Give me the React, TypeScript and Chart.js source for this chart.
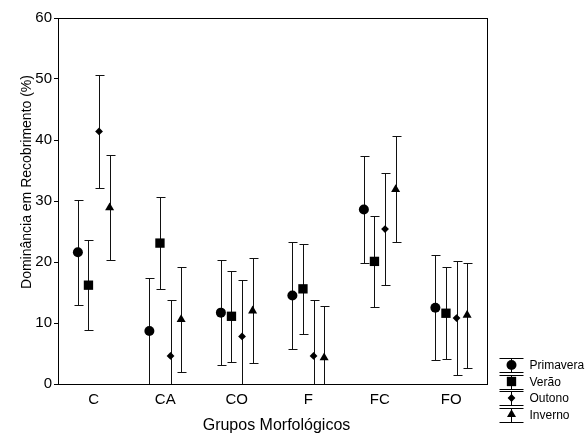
import React, { useEffect, useRef } from 'react';
import { Chart, registerables } from 'chart.js';

Chart.register(...registerables);

const categories = ['C', 'CA', 'CO', 'F', 'FC', 'FO'];
const seriesNames = ['Primavera', 'Verão', 'Outono', 'Inverno'];
const primaveraMean = [21.6, 8.7, 11.7, 14.5, 28.6, 12.5];
const primaveraErr = [8.6, 8.7, 8.6, 8.7, 8.7, 8.6];
const veraoMean = [16.2, 23.1, 11.1, 15.6, 20.1, 11.6];
const veraoErr = [7.4, 7.6, 7.5, 7.4, 7.5, 7.5];
const outonoMean = [41.4, 4.6, 7.8, 4.6, 25.4, 10.8];
const outonoErr = [9.3, 9.2, 9.2, 9.1, 9.2, 9.3];
const invernoMean = [28.9, 10.6, 12.0, 4.3, 31.9, 11.3];
const invernoErr = [8.6, 8.6, 8.6, 8.5, 8.7, 8.6];
const yTicks = [0, 10, 20, 30, 40, 50, 60];
const xTitle = 'Grupos Morfológicos';
const yTitle = 'Dominância em Recobrimento (%)';

const FONT = "'Liberation Sans', Arial, sans-serif";
const seriesMeans = [primaveraMean, veraoMean, outonoMean, invernoMean];
const seriesErrs = [primaveraErr, veraoErr, outonoErr, invernoErr];
const seriesOffsets = [-0.222, -0.074, 0.074, 0.222];
const seriesStyles = ['circle', 'rect', 'rectRot', 'triangle'];
const seriesRadius = [5.0, 6.6, 3.9, 5.2];

function drawMarker(ctx: CanvasRenderingContext2D, style: string, r: number, x: number, y: number) {
  ctx.beginPath();
  if (style === 'circle') {
    ctx.arc(x, y, r, 0, Math.PI * 2);
  } else if (style === 'rect') {
    const s = Math.SQRT1_2 * r;
    ctx.rect(x - s, y - s, 2 * s, 2 * s);
  } else if (style === 'rectRot') {
    ctx.moveTo(x, y - r);
    ctx.lineTo(x + r, y);
    ctx.lineTo(x, y + r);
    ctx.lineTo(x - r, y);
    ctx.closePath();
  } else {
    ctx.moveTo(x, y - r);
    ctx.lineTo(x + r * Math.sin(Math.PI / 3), y + r * 0.5);
    ctx.lineTo(x - r * Math.sin(Math.PI / 3), y + r * 0.5);
    ctx.closePath();
  }
  ctx.fill();
}

const errorBarPlugin = {
  id: 'errorBars',
  beforeDatasetsDraw(chart: any) {
    const { ctx, chartArea, scales } = chart;
    const ys = scales.y;
    ctx.save();
    ctx.beginPath();
    ctx.rect(chartArea.left, chartArea.top, chartArea.right - chartArea.left, chartArea.bottom - chartArea.top + 1);
    ctx.clip();
    ctx.strokeStyle = '#111';
    ctx.lineWidth = 1;
    chart.data.datasets.forEach((ds: any, di: number) => {
      const meta = chart.getDatasetMeta(di);
      meta.data.forEach((el: any, i: number) => {
        const m = seriesMeans[di][i];
        const e = seriesErrs[di][i];
        const x = Math.round(el.x) + 0.5;
        const yT = Math.round(ys.getPixelForValue(m + e)) + 0.5;
        const yB = Math.round(ys.getPixelForValue(m - e)) + 0.5;
        ctx.beginPath();
        ctx.moveTo(x, yT);
        ctx.lineTo(x, yB);
        ctx.moveTo(x - 4, yT);
        ctx.lineTo(x + 5, yT);
        ctx.moveTo(x - 4, yB);
        ctx.lineTo(x + 5, yB);
        ctx.stroke();
      });
    });
    ctx.restore();
  },
};

const framePlugin = {
  id: 'frame',
  afterDraw(chart: any) {
    const { ctx, chartArea } = chart;
    ctx.save();
    ctx.strokeStyle = '#000';
    ctx.lineWidth = 1;
    const l = Math.round(chartArea.left) + 0.5;
    const t = Math.round(chartArea.top) + 0.5;
    const r = Math.round(chartArea.right) + 0.5;
    const b = Math.round(chartArea.bottom) + 0.5;
    ctx.strokeRect(l, t, r - l, b - t);
    ctx.restore();
  },
};

const titlesPlugin = {
  id: 'axisTitles',
  afterDraw(chart: any) {
    const { ctx, chartArea } = chart;
    ctx.save();
    ctx.fillStyle = '#000';
    ctx.textAlign = 'center';
    ctx.textBaseline = 'alphabetic';
    ctx.font = `16px ${FONT}`;
    ctx.fillText(xTitle, (chartArea.left + chartArea.right) / 2 + 4, chartArea.bottom + 46);
    ctx.font = `14px ${FONT}`;
    ctx.translate(31, (chartArea.top + chartArea.bottom) / 2 - 19);
    ctx.rotate(-Math.PI / 2);
    ctx.fillText(yTitle, 0, 0);
    ctx.restore();
  },
};

const legendPlugin = {
  id: 'customLegend',
  afterDraw(chart: any) {
    const { ctx, chartArea } = chart;
    ctx.save();
    ctx.strokeStyle = '#000';
    ctx.fillStyle = '#000';
    ctx.lineWidth = 1;
    ctx.font = `12px ${FONT}`;
    ctx.textBaseline = 'middle';
    ctx.textAlign = 'left';
    chart.data.datasets.forEach((ds: any, i: number) => {
      const cx = Math.round(chartArea.right) + 24.5;
      const cy = Math.round(chartArea.bottom) - 19 + i * 16.5;
      const top = Math.round(cy - 7) + 0.5;
      const bot = Math.round(cy + 7) + 0.5;
      ctx.beginPath();
      ctx.moveTo(cx - 12, top);
      ctx.lineTo(cx + 12, top);
      ctx.moveTo(cx - 12, bot);
      ctx.lineTo(cx + 12, bot);
      ctx.moveTo(cx, top);
      ctx.lineTo(cx, bot);
      ctx.stroke();
      drawMarker(ctx, seriesStyles[i], seriesRadius[i], cx, cy);
      ctx.fillText(ds.label, cx + 18, cy + 1);
    });
    ctx.restore();
  },
};

export default function App() {
  const ref = useRef<HTMLCanvasElement | null>(null);
  useEffect(() => {
    if (!ref.current) return;
    Chart.defaults.font.family = FONT;
    Chart.defaults.color = '#000';
    const datasets = seriesNames.map((name, si) => ({
      label: name,
      data: categories.map((_, i) => ({ x: i + seriesOffsets[si], y: seriesMeans[si][i] })),
      pointStyle: seriesStyles[si],
      pointRadius: seriesRadius[si],
      pointHoverRadius: seriesRadius[si],
      backgroundColor: '#000',
      borderColor: '#000',
      borderWidth: 0,
      showLine: false,
    }));
    const chart = new Chart(ref.current, {
      type: 'scatter',
      data: { datasets },
      options: {
        animation: false,
        responsive: true,
        maintainAspectRatio: false,
        layout: { padding: { top: 18, right: 99, left: 0, bottom: 0 } },
        plugins: { legend: { display: false }, tooltip: { enabled: false } },
        scales: {
          x: {
            type: 'linear',
            min: -0.5,
            max: 5.5,
            afterFit: (s: any) => { s.height = 50; },
            afterBuildTicks: (s: any) => { s.ticks = categories.map((_, i) => ({ value: i })); },
            ticks: {
              callback: (v: any) => categories[Math.round(Number(v))] ?? '',
              font: { size: 15 },
              color: '#000',
              padding: 7,
              maxRotation: 0,
              autoSkip: false,
            },
            grid: { display: false, drawTicks: false },
            border: { display: false },
          },
          y: {
            min: 0,
            max: 60,
            afterFit: (s: any) => { s.width = 58; },
            afterBuildTicks: (s: any) => { s.ticks = yTicks.map((v) => ({ value: v })); },
            ticks: { font: { size: 15 }, color: '#000', padding: 2 },
            grid: { display: true, drawOnChartArea: false, drawTicks: true, tickLength: 4, color: '#000' },
            border: { display: false },
          },
        },
      },
      plugins: [errorBarPlugin, framePlugin, titlesPlugin, legendPlugin],
    } as any);
    return () => chart.destroy();
  }, []);
  return (
    <div style={{ position: 'absolute', left: 0, top: 0, width: 586, height: 434 }}>
      <canvas ref={ref} />
    </div>
  );
}
